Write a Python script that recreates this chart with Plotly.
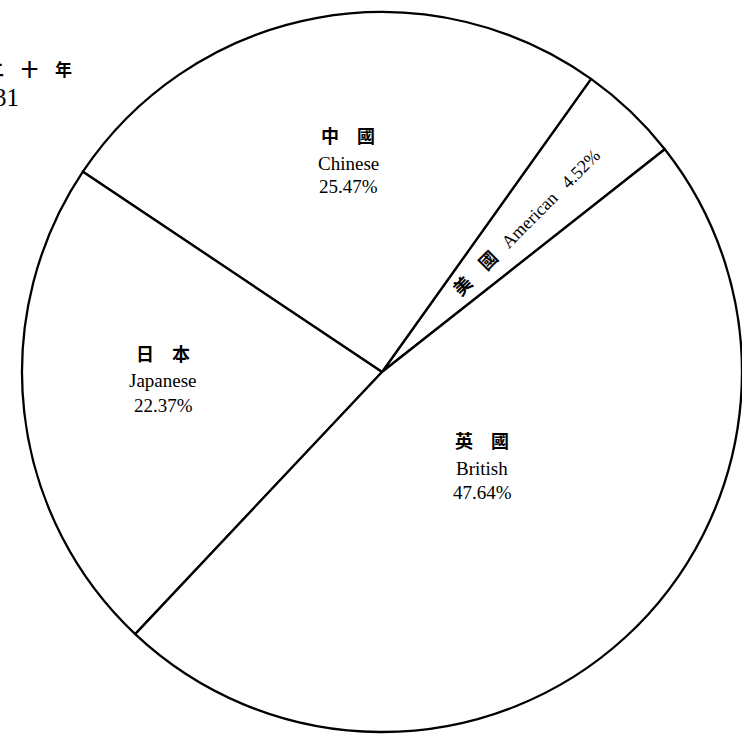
import plotly.graph_objects as go

# Data
labels_zh = ["美　國", "中　國", "日　本", "英　國"]
labels_en = ["American", "Chinese", "Japanese", "British"]
shares = [4.52, 25.47, 22.37, 47.64]
title_zh = "民　國　二　十　年"
title_year = "1931"

W, H = 742, 734
CX, CY, R = 382, 372, 360

def px(x):
    return x / W

def py(y):
    return 1 - y / H

fig = go.Figure()
fig.add_trace(go.Pie(
    labels=labels_en,
    values=shares,
    sort=False,
    direction="counterclockwise",
    rotation=35.5,
    textinfo="none",
    hoverinfo="label+percent",
    marker=dict(colors=["white"] * len(shares), line=dict(color="black", width=2.3)),
    domain=dict(x=[px(CX - R), px(CX + R)], y=[py(CY + R), py(CY - R)]),
    showlegend=False,
))

serif = "Liberation Serif, Noto Sans CJK TC, serif"
cjk = "Noto Sans CJK TC, sans-serif"

# horizontal label positions (pixel centres) for Chinese, Japanese, British
label_xy = {1: (348, 135), 2: (163, 353), 3: (482, 440)}
ann = []
for i, (x, y) in label_xy.items():
    ann.append(dict(x=px(x), y=py(y), text="<b>%s</b>" % labels_zh[i],
                    font=dict(family=cjk, size=18, color="black")))
    ann.append(dict(x=px(x), y=py(y + 28), text=labels_en[i],
                    font=dict(family=serif, size=19, color="black")))
    ann.append(dict(x=px(x), y=py(y + 52), text="%.2f%%" % shares[i],
                    font=dict(family=serif, size=19, color="black")))

# American label, rotated along the thin slice
ann.append(dict(x=px(526), y=py(222), textangle=-45,
                text="<b>%s</b>   %s   %.2f%%" % (labels_zh[0], labels_en[0], shares[0]),
                font=dict(family=serif, size=18, color="black")))

# top-left caption (partly cut off at the page edge)
ann.append(dict(x=px(74), y=py(68), xanchor="right", text="<b>%s</b>" % title_zh,
                font=dict(family=cjk, size=17, color="black")))
ann.append(dict(x=px(21), y=py(98), xanchor="right", text=title_year,
                font=dict(family=serif, size=25, color="black")))

for a in ann:
    a.update(xref="paper", yref="paper", showarrow=False)
    a.setdefault("xanchor", "center")
    a["yanchor"] = "middle"

fig.update_layout(
    width=W, height=H,
    margin=dict(l=0, r=0, t=0, b=0),
    paper_bgcolor="white", plot_bgcolor="white",
    annotations=ann,
)

fig.write_html("out.html", config={"displayModeBar": False},
               post_script="document.body.style.margin='0';")
